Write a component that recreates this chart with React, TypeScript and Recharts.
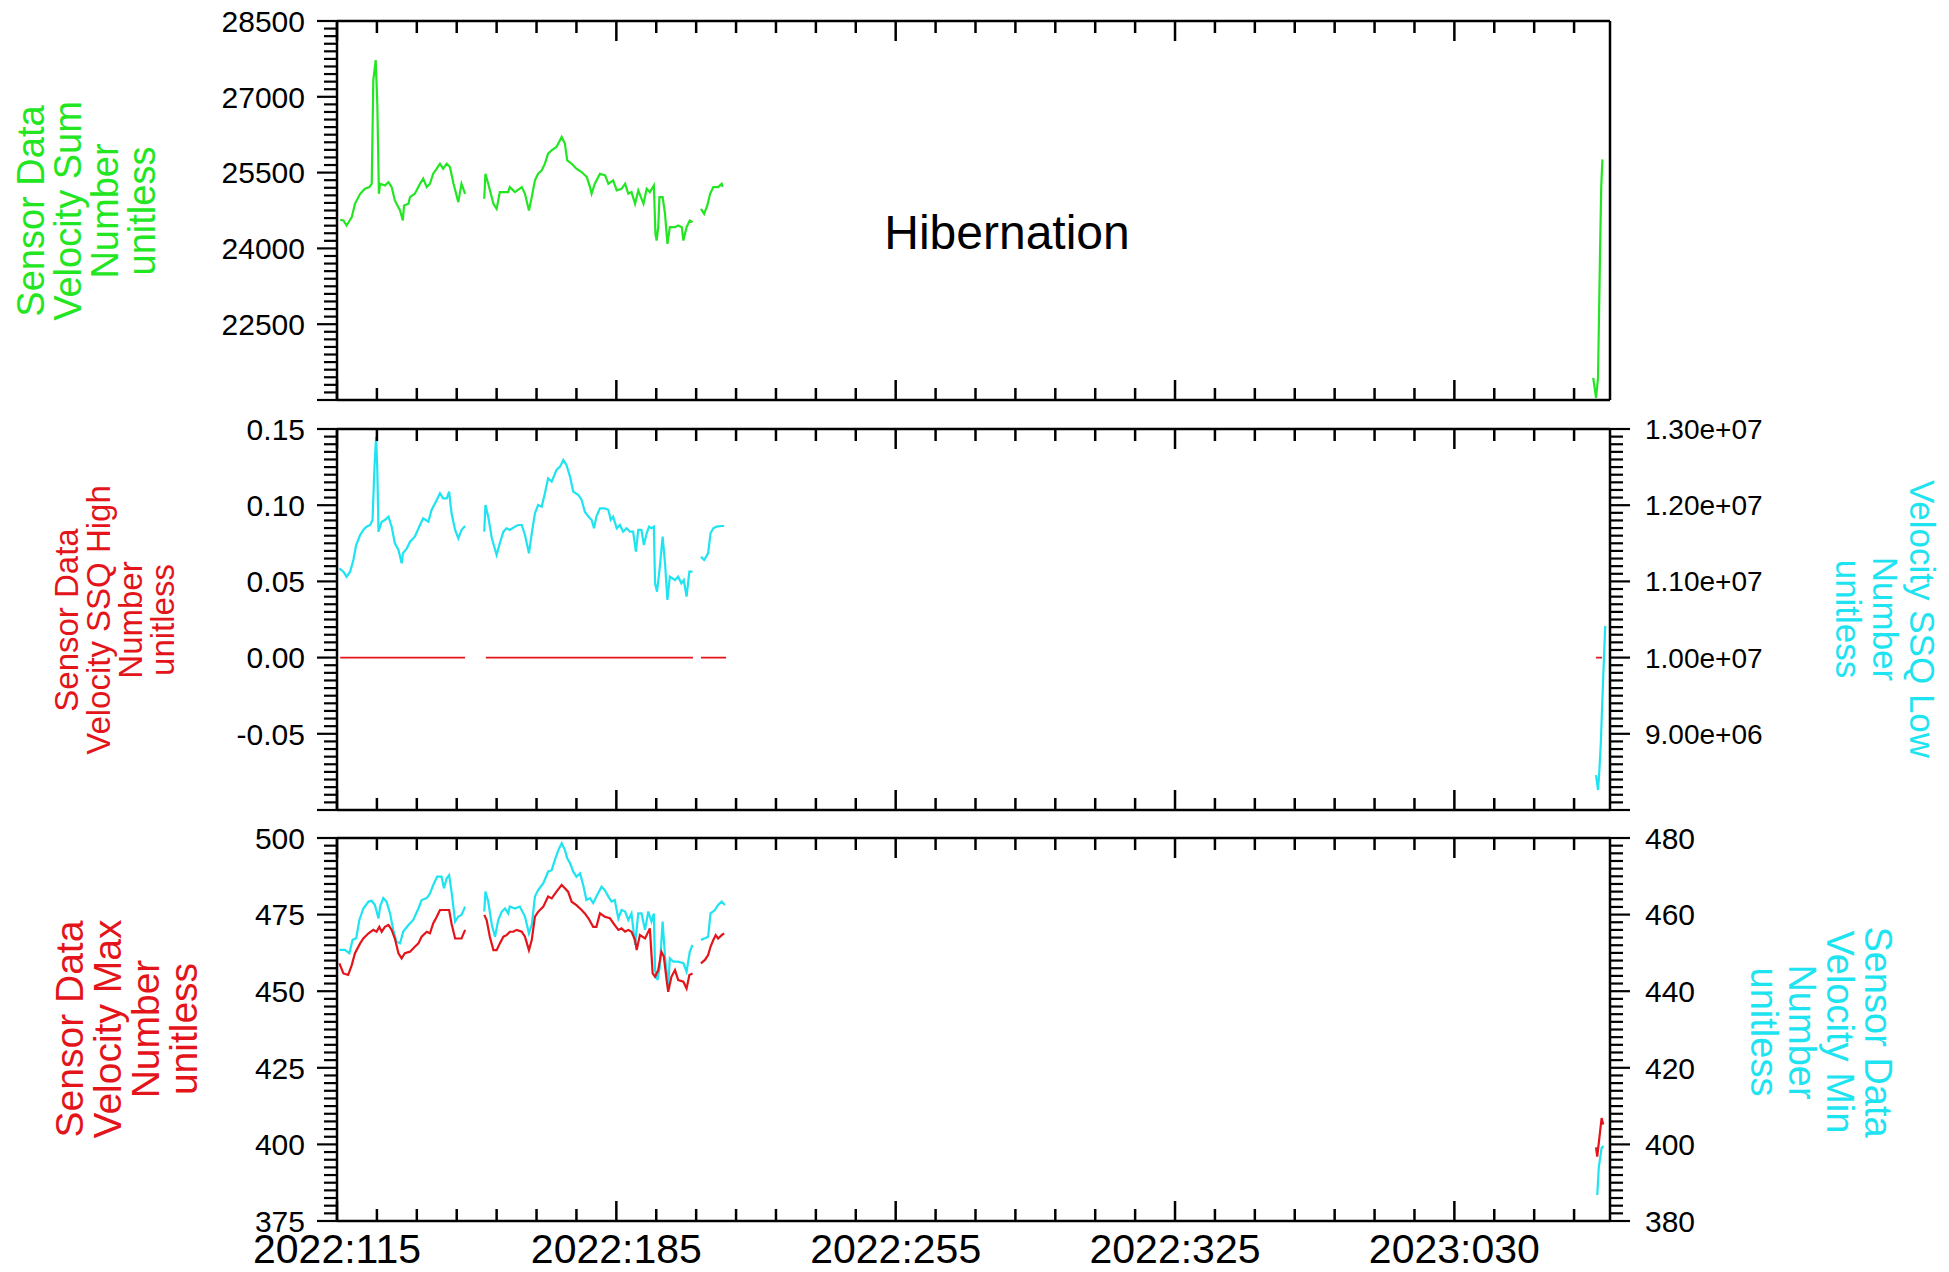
import { LineChart, Line, XAxis, YAxis } from "recharts";

// ---- page / plot geometry ----
const W = 1949;
const H = 1272;
const PLOT_LEFT = 337;
const PLOT_RIGHT = 1610;
const PANELS = [
  { top: 21, bottom: 400 },
  { top: 429, bottom: 810 },
  { top: 838, bottom: 1221 },
];
const FONT = '"Liberation Sans", Arial, Helvetica, sans-serif';
const GREEN = "#22e622";
const CYAN = "#1ee3f0";
const RED = "#e3141a";

// ---- time axis (day of year counted from 2022:000) ----
const DAY_MIN = 115;
const DAY_MAX = 434;
const DAY_MAJOR = [115, 185, 255, 325, 395];
const DAY_MAJOR_LABELS = ["2022:115", "2022:185", "2022:255", "2022:325", "2023:030"];

// ---- panel 1: Velocity Sum (green) ----
const SUM_DAYS = [
  115.8, 116.6, 117.4, 118.7, 119.5, 120.8, 122.0, 123.1, 123.7, 124.1, 124.7, 125.1, 125.5, 125.8,
  127.0, 127.9, 128.7, 129.5, 130.8, 131.5, 131.8, 132.9, 133.3, 134.5, 135.8, 136.6, 137.5, 138.3,
  139.1, 140.0, 140.8, 141.6, 142.5, 143.3, 144.2, 145.4, 146.2, 147.1,
  149,
  151.9, 152.2, 152.9, 154.2, 155.0, 155.8, 157.9, 158.3, 159.6, 161.3, 162.1, 163.1, 163.8, 164.6,
  165.4, 166.3, 167.1, 167.9, 168.8, 170.0, 171.3, 172.1, 172.7, 173.8, 175.0, 176.3, 177.6, 178.4,
  178.8, 179.6, 180.9, 182.2, 183.0, 184.2, 185.1, 186.3, 187.2, 188.0, 188.8, 189.7, 190.5, 191.8,
  192.6, 193.4, 194.4, 194.8, 195.1, 195.5, 195.8, 196.6, 197.2, 197.8, 198.4, 199.7, 200.5, 201.4,
  201.8, 202.6, 203.4, 204.1,
  205,
  206.2, 207.0, 207.8, 208.5, 209.3, 210.5, 211.4, 211.6,
  300,
  429.8, 430.5, 431.0, 431.5, 431.8, 432.1,
];
const SUM_VALUES = [
  24565, 24552, 24453, 24618, 24883, 25081, 25180, 25213, 25279, 27329, 27726, 26867, 25081, 25279,
  25246, 25312, 25213, 24949, 24750, 24552, 24850, 24883, 25015, 25081, 25279, 25379, 25213, 25279,
  25478, 25577, 25676, 25577, 25676, 25610, 25279, 24916, 25279, 25081,
  null,
  24982, 25478, 25279, 24883, 24783, 25114, 25114, 25213, 25114, 25213, 25081, 24750, 25015, 25346,
  25478, 25544, 25676, 25875, 25941, 26007, 26205, 26073, 25742, 25676, 25577, 25511, 25412, 25213,
  25081, 25279, 25478, 25445, 25279, 25346, 25147, 25180, 25279, 25081, 25114, 24883, 25147, 24883,
  25180, 25114, 25246, 24287, 24155, 24420, 25015, 25015, 24684, 24089, 24420, 24420, 24453, 24420,
  24155, 24420, 24552, 24519,
  null,
  24783, 24684, 24850, 25081, 25213, 25213, 25279, 25213,
  null,
  21437, 21040, 21437, 23897, 25207, 25762,
];

// ---- panel 2: Velocity SSQ High (red, left) and Velocity SSQ Low (cyan, right) ----
const SSQ_HIGH_DAYS = [115.8, 147.1, 149, 152.3, 204.2, 205, 206.2, 212.5, 300, 430.5, 432.0];
const SSQ_HIGH_VALUES = [0, 0, null, 0, 0, null, 0, 0, null, 0, 0];

const SSQ_LOW_DAYS = [
  115.6, 116.6, 117.4, 118.3, 119.1, 119.8, 120.8, 121.6, 122.4, 123.3, 123.9, 124.4, 124.8, 125.1,
  125.4, 126.2, 127.0, 127.9, 128.7, 129.5, 130.4, 131.2, 131.5, 132.5, 133.3, 134.5, 135.8, 136.6,
  137.9, 138.7, 140.0, 140.8, 141.6, 142.5, 143.1, 143.7, 144.6, 145.4, 146.2, 147.1,
  149,
  151.9, 152.2, 152.9, 153.8, 155.0, 155.8, 156.7, 157.5, 158.3, 159.6, 160.4, 161.3, 162.1, 163.1,
  163.8, 164.6, 165.4, 166.3, 167.1, 167.9, 168.8, 170.0, 170.9, 171.7, 172.5, 173.4, 174.2, 175.5,
  176.3, 177.1, 178.0, 178.8, 179.4, 180.0, 180.9, 182.1, 183.0, 183.6, 184.2, 185.1, 185.9, 186.7,
  187.6, 188.4, 189.2, 189.9, 190.5, 191.3, 191.9, 192.6, 193.2, 193.8, 194.4, 194.7, 195.2, 195.9,
  196.6, 197.2, 197.8, 198.4, 199.7, 200.5, 201.3, 201.9, 202.6, 203.3, 204.1,
  205,
  206.2, 207.0, 208.0, 208.6, 209.3, 210.1, 211.4, 212.0,
  300,
  430.5, 431.0, 431.3, 431.7, 432.3, 432.8,
];
const SSQ_LOW_VALUES = [
  11171e3, 11128e3, 11062e3, 11128e3, 11281e3, 11478e3, 11609e3, 11675e3, 11718e3, 11740e3, 11806e3,
  12506e3, 12899e3, 12462e3, 11653e3, 11784e3, 11806e3, 11850e3, 11718e3, 11500e3, 11412e3, 11237e3,
  11368e3, 11434e3, 11521e3, 11587e3, 11740e3, 11828e3, 11784e3, 11937e3, 12068e3, 12156e3, 12090e3,
  12090e3, 12178e3, 11893e3, 11675e3, 11565e3, 11675e3, 11727e3,
  null,
  11653e3, 12003e3, 11850e3, 11565e3, 11346e3, 11500e3, 11653e3, 11697e3, 11675e3, 11718e3, 11740e3,
  11740e3, 11609e3, 11368e3, 11631e3, 11893e3, 12003e3, 11981e3, 12156e3, 12353e3, 12309e3, 12462e3,
  12506e3, 12593e3, 12528e3, 12374e3, 12178e3, 12134e3, 12068e3, 11915e3, 11850e3, 11806e3, 11697e3,
  11850e3, 11959e3, 11959e3, 11937e3, 11806e3, 11850e3, 11697e3, 11740e3, 11653e3, 11697e3, 11653e3,
  11653e3, 11390e3, 11675e3, 11675e3, 11478e3, 11631e3, 11718e3, 11697e3, 11718e3, 10975e3, 10865e3,
  11193e3, 11587e3, 11237e3, 10756e3, 11062e3, 11018e3, 11062e3, 10975e3, 11018e3, 10800e3, 11128e3,
  11128e3,
  null,
  11325e3, 11281e3, 11368e3, 11631e3, 11697e3, 11718e3, 11727e3, 11727e3,
  null,
  8459e3, 8262e3, 8485e3, 8879e3, 9745e3, 10415e3,
];

// ---- panel 3: Velocity Max (red, left) and Velocity Min (cyan, right) ----
const MAX_DAYS = [
  115.6, 116.6, 117.8, 118.7, 119.5, 120.8, 121.6, 122.9, 124.1, 124.9, 125.6, 126.2, 127.0, 127.9,
  128.7, 129.5, 130.4, 131.2, 132.0, 133.3, 134.5, 135.4, 136.2, 137.5, 138.3, 139.1, 140.0, 140.8,
  142.1, 143.1, 143.7, 144.6, 145.4, 146.2, 147.1,
  149,
  151.9, 152.5, 153.3, 154.2, 155.0, 155.8, 156.7, 157.5, 158.3, 159.2, 160.0, 161.3, 162.1, 163.1,
  163.8, 164.6, 165.4, 166.7, 167.9, 168.8, 170.0, 171.3, 172.1, 172.9, 173.8, 175.0, 176.3, 177.1,
  178.0, 179.2, 180.0, 180.9, 182.1, 183.4, 184.6, 185.5, 186.3, 187.2, 188.0, 188.8, 189.7, 190.1,
  190.9, 192.2, 193.4, 194.1, 194.7, 195.5, 196.3, 196.9, 197.6, 198.0, 198.8, 199.7, 200.5, 201.8,
  202.6, 203.3, 204.1,
  205,
  206.2, 207.2, 208.0, 208.6, 209.3, 209.9, 210.5, 211.4, 212.0,
  300,
  430.5, 430.8, 431.9, 432.3,
];
const MAX_VALUES = [
  459.1, 455.8, 455.3, 458.5, 462.4, 465.6, 467.2, 468.9, 470.0, 469.4, 471.0, 469.4, 471.0, 471.6,
  470.0, 467.2, 462.4, 460.7, 462.4, 462.9, 464.5, 465.6, 467.8, 469.4, 468.9, 472.1, 474.3, 476.5,
  476.5, 476.5, 472.1, 467.2, 467.2, 467.2, 470.0,
  null,
  474.9, 473.2, 467.8, 463.4, 463.4, 465.6, 467.8, 468.3, 469.4, 469.4, 470.0, 469.4, 467.8, 463.4,
  466.7, 474.3, 475.9, 477.6, 480.9, 480.3, 482.5, 484.7, 483.6, 482.5, 479.2, 478.1, 476.5, 475.4,
  473.8, 471.0, 471.0, 475.4, 474.3, 473.8, 471.6, 470.0, 470.5, 469.4, 470.0, 469.4, 466.7, 463.4,
  468.3, 467.2, 470.5, 455.8, 454.7, 456.9, 462.9, 461.3, 453.6, 449.8, 454.7, 456.9, 453.6, 453.1,
  450.9, 455.3, 455.8,
  null,
  459.1, 460.2, 461.8, 464.5, 466.7, 468.3, 467.2, 468.3, 468.9,
  null,
  399.0, 396.0, 408.6, 406.5,
];

const MIN_DAYS = [
  115.6, 117.0, 118.1, 118.9, 119.8, 120.6, 121.6, 122.9, 123.7, 124.5, 125.4, 125.8, 126.6, 127.4,
  128.3, 129.1, 129.9, 130.8, 131.6, 132.9, 134.1, 135.4, 136.2, 137.5, 138.3, 139.1, 140.1, 141.2,
  141.8, 142.5, 143.1, 143.7, 144.6, 145.4, 146.2, 147.1,
  149,
  151.9, 152.2, 152.9, 153.8, 154.6, 155.4, 156.3, 157.1, 157.9, 158.3, 159.6, 160.8, 162.1, 163.1,
  163.8, 164.6, 165.4, 166.7, 167.9, 168.8, 169.6, 170.5, 171.3, 172.1, 172.7, 173.4, 174.2, 175.0,
  175.9, 176.7, 177.5, 178.4, 179.2, 180.0, 181.3, 182.1, 183.0, 183.8, 184.6, 185.5, 186.3, 187.2,
  188.0, 188.8, 189.7, 190.5, 191.3, 192.2, 193.0, 193.8, 194.4, 194.7, 195.3, 195.9, 196.6, 197.2,
  198.0, 198.4, 199.3, 200.5, 201.8, 202.6, 203.4, 204.1,
  205,
  206.2, 207.2, 208.0, 208.6, 209.7, 210.5, 211.4, 212.2,
  300,
  430.8, 431.2, 431.9, 432.4,
];
const MIN_VALUES = [
  450.8, 450.8, 449.9, 453.4, 453.8, 458.6, 461.6, 463.4, 463.6, 462.5, 459.0, 462.1, 464.3, 463.4,
  460.3, 456.0, 452.9, 452.5, 455.6, 457.3, 458.6, 461.6, 463.8, 464.3, 465.5, 467.7, 469.9, 469.9,
  466.9, 469.5, 470.3, 466.0, 458.2, 459.5, 459.9, 462.1,
  null,
  460.8, 466.0, 463.4, 457.3, 454.2, 458.6, 460.8, 461.6, 460.3, 462.1, 461.6, 462.1, 459.5, 455.1,
  457.3, 464.7, 466.4, 468.2, 471.2, 471.6, 474.3, 476.9, 478.6, 476.9, 474.7, 473.4, 471.2, 469.9,
  470.8, 467.7, 463.8, 464.3, 463.0, 464.7, 467.3, 466.4, 464.7, 463.4, 463.8, 459.0, 461.2, 460.8,
  458.6, 460.3, 452.1, 460.3, 460.3, 456.0, 460.8, 458.2, 460.3, 445.5, 442.9, 446.4, 458.2, 449.0,
  441.2, 448.6, 447.7, 447.7, 447.3, 445.1, 450.3, 452.1,
  null,
  453.4, 453.8, 454.2, 460.3, 461.2, 462.5, 463.4, 462.5,
  null,
  386.8, 394.1, 399.1, 399.6,
];

// ---- axis tick settings ----
const SUM_DOMAIN = [21000, 28500];
const SUM_MAJOR = [21000, 22500, 24000, 25500, 27000, 28500];
const SUM_LABELED = [22500, 24000, 25500, 27000, 28500];

const HIGH_DOMAIN = [-0.1, 0.15];
const HIGH_MAJOR = [-0.1, -0.05, 0, 0.05, 0.1, 0.15];
const HIGH_LABELED = [-0.05, 0, 0.05, 0.1, 0.15];

const LOW_DOMAIN = [8e6, 1.3e7];
const LOW_MAJOR = [8e6, 9e6, 1e7, 1.1e7, 1.2e7, 1.3e7];
const LOW_LABELED = [9e6, 1e7, 1.1e7, 1.2e7, 1.3e7];

const MAX_DOMAIN = [375, 500];
const MAX_MAJOR = [375, 400, 425, 450, 475, 500];

const MIN_DOMAIN = [380, 480];
const MIN_MAJOR = [380, 400, 420, 440, 460, 480];

function range(a: number, b: number, step: number) {
  const out: number[] = [];
  const n = Math.round((b - a) / step);
  for (let i = 0; i <= n; i++) out.push(+(a + i * step).toFixed(6));
  return out;
}

const DAY_TICKS = range(115, 425, 10);

function rows(days: number[], vals: (number | null)[]) {
  return days.map((d, i) => ({ day: d, v: vals[i] }));
}

const has = (list: number[], v: number) => list.some((m) => Math.abs(m - v) < 1e-6 * Math.max(1, Math.abs(m)));

const fmtExp = (v: number) => v.toExponential(2).replace(/e([+-])(\d)$/, "e$10$2");

function makeXTick(top: number, bottom: number, showLabel: boolean) {
  return (props: any) => {
    const { x, payload } = props;
    const idx = DAY_MAJOR.indexOf(payload.value);
    const len = idx >= 0 ? 20 : 12;
    return (
      <g>
        <line x1={x} x2={x} y1={bottom} y2={bottom - len} stroke="#000" strokeWidth={2.5} />
        <line x1={x} x2={x} y1={top} y2={top + len} stroke="#000" strokeWidth={2.5} />
        {showLabel && idx >= 0 && (
          <text x={x} y={bottom + 42} textAnchor="middle" fontSize={41} fontFamily={FONT} fill="#000">
            {DAY_MAJOR_LABELS[idx]}
          </text>
        )}
      </g>
    );
  };
}

function makeYTick(
  side: "left" | "right",
  major: number[],
  labeled: number[],
  fmt: (v: number) => string,
  size: number
) {
  const axisX = side === "left" ? PLOT_LEFT : PLOT_RIGHT;
  const dir = side === "left" ? -1 : 1;
  return (props: any) => {
    const { y, payload } = props;
    const v = payload.value;
    const len = has(major, v) ? 20 : 13;
    return (
      <g>
        <line x1={axisX} x2={axisX + dir * len} y1={y} y2={y} stroke="#000" strokeWidth={2.2} />
        {has(labeled, v) && (
          <text
            x={side === "left" ? axisX - 32 : axisX + 35}
            y={y}
            dy="0.36em"
            textAnchor={side === "left" ? "end" : "start"}
            fontSize={size}
            fontFamily={FONT}
            fill="#000"
          >
            {fmt(v)}
          </text>
        )}
      </g>
    );
  };
}

const AXIS_LINE = { stroke: "#000", strokeWidth: 2.5 };

function Frame({ panel, showLabels, children }: any) {
  const p = PANELS[panel];
  return (
    <div style={{ position: "absolute", left: 0, top: 0 }}>
      <LineChart
        width={W}
        height={H}
        margin={{ top: p.top - 1, bottom: H - p.bottom - 1, left: 0, right: 0 }}
      >
        <XAxis
          dataKey="day"
          type="number"
          domain={[DAY_MIN, DAY_MAX]}
          allowDataOverflow
          ticks={DAY_TICKS}
          interval={0}
          height={1}
          tickLine={false}
          axisLine={AXIS_LINE}
          tick={makeXTick(p.top, p.bottom, showLabels)}
        />
        <XAxis
          xAxisId="top"
          orientation="top"
          dataKey="day"
          type="number"
          domain={[DAY_MIN, DAY_MAX]}
          allowDataOverflow
          height={1}
          tick={false}
          tickLine={false}
          axisLine={AXIS_LINE}
        />
        {children}
      </LineChart>
    </div>
  );
}

function AxisTitle({ lines, color, cx, cy, size, lh, rotate }: any) {
  return (
    <div
      style={{
        position: "absolute",
        left: cx,
        top: cy,
        transform: `translate(-50%, -50%) rotate(${rotate}deg)`,
        color,
        fontFamily: FONT,
        fontSize: size,
        lineHeight: `${lh}px`,
        textAlign: "center",
        whiteSpace: "nowrap",
      }}
    >
      {lines.map((l: string) => (
        <div key={l}>{l}</div>
      ))}
    </div>
  );
}

export default function App() {
  return (
    <div
      style={{
        position: "absolute",
        left: 0,
        top: 0,
        width: W,
        height: H,
        background: "#fff",
        overflow: "hidden",
      }}
    >
      {/* panel 1 */}
      {Frame({
        panel: 0,
        showLabels: false,
        children: [
          <YAxis
            key="l"
            yAxisId="l"
            type="number"
            domain={SUM_DOMAIN}
            allowDataOverflow
            ticks={range(21000, 28500, 150)}
            interval={0}
            width={PLOT_LEFT}
            tickLine={false}
            axisLine={AXIS_LINE}
            tick={makeYTick("left", SUM_MAJOR, SUM_LABELED, (v) => String(v), 30)}
          />,
          <YAxis
            key="r"
            yAxisId="r"
            orientation="right"
            type="number"
            domain={[0, 1]}
            width={W - PLOT_RIGHT}
            tick={false}
            tickLine={false}
            axisLine={AXIS_LINE}
          />,
          <Line
            key="sum"
            yAxisId="l"
            data={rows(SUM_DAYS, SUM_VALUES)}
            dataKey="v"
            type="linear"
            stroke={GREEN}
            strokeWidth={2.2}
            dot={false}
            connectNulls={false}
            isAnimationActive={false}
          />,
        ],
      })}

      {/* panel 2 */}
      {Frame({
        panel: 1,
        showLabels: false,
        children: [
          <YAxis
            key="l"
            yAxisId="l"
            type="number"
            domain={HIGH_DOMAIN}
            allowDataOverflow
            ticks={range(-0.1, 0.15, 0.005)}
            interval={0}
            width={PLOT_LEFT}
            tickLine={false}
            axisLine={AXIS_LINE}
            tick={makeYTick("left", HIGH_MAJOR, HIGH_LABELED, (v) => v.toFixed(2), 30)}
          />,
          <YAxis
            key="r"
            yAxisId="r"
            orientation="right"
            type="number"
            domain={LOW_DOMAIN}
            allowDataOverflow
            ticks={range(8e6, 1.3e7, 1e5)}
            interval={0}
            width={W - PLOT_RIGHT}
            tickLine={false}
            axisLine={AXIS_LINE}
            tick={makeYTick("right", LOW_MAJOR, LOW_LABELED, fmtExp, 28)}
          />,
          <Line
            key="high"
            yAxisId="l"
            data={rows(SSQ_HIGH_DAYS, SSQ_HIGH_VALUES)}
            dataKey="v"
            type="linear"
            stroke={RED}
            strokeWidth={1.6}
            dot={false}
            connectNulls={false}
            isAnimationActive={false}
          />,
          <Line
            key="low"
            yAxisId="r"
            data={rows(SSQ_LOW_DAYS, SSQ_LOW_VALUES)}
            dataKey="v"
            type="linear"
            stroke={CYAN}
            strokeWidth={2.2}
            dot={false}
            connectNulls={false}
            isAnimationActive={false}
          />,
        ],
      })}

      {/* panel 3 */}
      {Frame({
        panel: 2,
        showLabels: true,
        children: [
          <YAxis
            key="l"
            yAxisId="l"
            type="number"
            domain={MAX_DOMAIN}
            allowDataOverflow
            ticks={range(375, 500, 2.5)}
            interval={0}
            width={PLOT_LEFT}
            tickLine={false}
            axisLine={AXIS_LINE}
            tick={makeYTick("left", MAX_MAJOR, MAX_MAJOR, (v) => String(v), 30)}
          />,
          <YAxis
            key="r"
            yAxisId="r"
            orientation="right"
            type="number"
            domain={MIN_DOMAIN}
            allowDataOverflow
            ticks={range(380, 480, 2)}
            interval={0}
            width={W - PLOT_RIGHT}
            tickLine={false}
            axisLine={AXIS_LINE}
            tick={makeYTick("right", MIN_MAJOR, MIN_MAJOR, (v) => String(v), 30)}
          />,
          <Line
            key="min"
            yAxisId="r"
            data={rows(MIN_DAYS, MIN_VALUES)}
            dataKey="v"
            type="linear"
            stroke={CYAN}
            strokeWidth={2.2}
            dot={false}
            connectNulls={false}
            isAnimationActive={false}
          />,
          <Line
            key="max"
            yAxisId="l"
            data={rows(MAX_DAYS, MAX_VALUES)}
            dataKey="v"
            type="linear"
            stroke={RED}
            strokeWidth={2.2}
            dot={false}
            connectNulls={false}
            isAnimationActive={false}
          />,
        ],
      })}

      <div
        style={{
          position: "absolute",
          left: 1007,
          top: 232,
          transform: "translate(-50%, -50%)",
          fontFamily: FONT,
          fontSize: 48,
          color: "#000",
          whiteSpace: "nowrap",
        }}
      >
        Hibernation
      </div>

      <AxisTitle
        lines={["Sensor Data", "Velocity Sum", "Number", "unitless"]}
        color={GREEN}
        cx={87}
        cy={211}
        size={38}
        lh={37}
        rotate={-90}
      />
      <AxisTitle
        lines={["Sensor Data", "Velocity SSQ High", "Number", "unitless"]}
        color={RED}
        cx={115}
        cy={620}
        size={33}
        lh={32}
        rotate={-90}
      />
      <AxisTitle
        lines={["Velocity SSQ Low", "Number", "unitless"]}
        color={CYAN}
        cx={1885}
        cy={619}
        size={35}
        lh={37}
        rotate={90}
      />
      <AxisTitle
        lines={["Sensor Data", "Velocity Max", "Number", "unitless"]}
        color={RED}
        cx={127}
        cy={1029}
        size={39}
        lh={38}
        rotate={-90}
      />
      <AxisTitle
        lines={["Sensor Data", "Velocity Min", "Number", "unitless"]}
        color={CYAN}
        cx={1821}
        cy={1032}
        size={38}
        lh={38}
        rotate={90}
      />
    </div>
  );
}
